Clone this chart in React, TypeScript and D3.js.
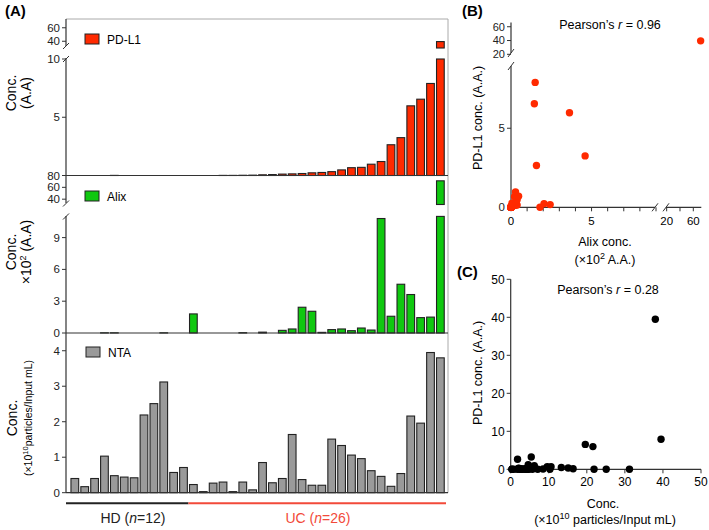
import React from 'react';
import * as d3 from 'd3';

// ---------- data ----------
const samples: string[] = [
  'HD1','HD2','HD3','HD4','HD5','HD6','HD7','HD8','HD9','HD10','HD11','HD12',
  'UC1','UC2','UC3','UC4','UC5','UC6','UC7','UC8','UC9','UC10','UC11','UC12','UC13',
  'UC14','UC15','UC16','UC17','UC18','UC19','UC20','UC21','UC22','UC23','UC24','UC25','UC26',
];
const groupNames = ['HD', 'UC'];
const groupSizes = [12, 26];

// PD-L1 (A.A.)
const pdl1: number[] = [
  0, 0, 0, 0, 0.01, 0, 0, 0, 0, 0, 0, 0,
  0, 0, 0, 0.01, 0.01, 0.02, 0.03, 0.06, 0.08, 0.12, 0.14, 0.17, 0.23, 0.26,
  0.33, 0.48, 0.67, 0.7, 0.97, 1.2, 2.64, 3.25, 5.98, 6.55, 7.9, 39.5,
];
// Alix (x10^2 A.A.)
const alix: number[] = [
  0, 0, 0, 0.02, 0.02, 0, 0, 0, 0, 0.02, 0, 0,
  1.8, 0, 0, 0, 0, 0.03, 0, 0.08, 0, 0.25, 0.38, 2.43, 2.05, 0.06,
  0.32, 0.38, 0.22, 0.47, 0.28, 10.8, 1.58, 4.6, 3.63, 1.45, 1.5, 71,
];
// NTA (x10^10 particles / input mL)
const nta: number[] = [
  0.40, 0.17, 0.40, 1.03, 0.48, 0.44, 0.42, 2.19, 2.51, 3.12, 0.57, 0.71,
  0.23, 0.03, 0.27, 0.30, 0.03, 0.30, 0.08, 0.85, 0.28, 0.40, 1.64, 0.37, 0.21, 0.21,
  1.51, 1.33, 1.06, 0.96, 0.62, 0.46, 0.18, 0.54, 2.16, 1.96, 3.95, 3.80,
];

const redTicksHigh = [40, 60];
const redTicksLow = [5, 10];
const greenTicksHigh = [40, 60, 80];
const greenTicksLow = [0, 3, 6, 9];
const grayTicks = [0, 1, 2, 3, 4];
const bTicksXLow = [0, 1, 2, 3, 4, 5, 6, 7, 8, 9];
const bTickLabelsXLow = [0, 5];
const bTicksXHigh = [20, 40, 60];
const bTickLabelsXHigh = [20, 60];
const bTicksYLow = [0, 5];
const bTicksYHigh = [20, 40, 60];
const cTicks = [0, 10, 20, 30, 40, 50];

const RED = '#ff2a00';
const GREEN = '#10c810';
const GRAY = '#9a9a9a';
const UCRED = '#f24a3a';
const FONT = '"Liberation Sans", Arial, Helvetica, sans-serif';
const AX = '#333';

// ---------- layout ----------
const AX0 = 66, AX1 = 448;
const x = d3.scaleBand<string>().domain(samples).range([68, 447.2]).paddingInner(0.22).paddingOuter(0.3);

const redLow = d3.scaleLinear().domain([0, 10]).range([175.5, 59]);
const redHigh = d3.scaleLinear().domain([30, 73]).range([48, 19]);
const greenLow = d3.scaleLinear().domain([0, 11]).range([333, 216.4]);
const greenHigh = d3.scaleLinear().domain([31, 80]).range([204.5, 175.5]);
const grayY = d3.scaleLinear().domain([0, 4.5]).range([492.7, 333]);

const bxLow = d3.scaleLinear().domain([0, 9]).range([511, 656]);
const bxHigh = d3.scaleLinear().domain([19, 72]).range([666, 701.3]);
const byLow = d3.scaleLinear().domain([0, 9]).range([207.3, 65]);
const byHigh = d3.scaleLinear().domain([19, 66]).range([55, 22.6]);

const cx = d3.scaleLinear().domain([0, 50]).range([510.7, 701]);
const cy = d3.scaleLinear().domain([0, 50]).range([469.3, 279.3]);

type Seg = { low: d3.ScaleLinear<number, number>; high: d3.ScaleLinear<number, number> };

function BrokenBars({ values, seg, fill }: { values: number[]; seg: Seg; fill: string }) {
  const lowMax = seg.low.domain()[1];
  const highMin = seg.high.domain()[0];
  const base = seg.low(0);
  return (
    <g>
      {values.map((v, i) => {
        const xx = x(samples[i])!;
        const w = x.bandwidth();
        const yTop = seg.low(Math.min(v, lowMax));
        const parts = [
          <rect key="l" x={xx} y={yTop} width={w} height={Math.max(base - yTop, 0)} fill={fill} stroke="#222" strokeWidth={1.1} />,
        ];
        if (v > highMin) {
          const yh = seg.high(v);
          parts.push(
            <rect key="h" x={xx} y={yh} width={w} height={seg.high(highMin) - yh} fill={fill} stroke="#222" strokeWidth={1.1} />
          );
        }
        return <g key={i}>{parts}</g>;
      })}
    </g>
  );
}

function Slash({ x0, y0 }: { x0: number; y0: number }) {
  return <line x1={x0 - 3} y1={y0 + 3} x2={x0 + 3} y2={y0 - 3} stroke={AX} strokeWidth={1} />;
}
function SlashV({ x0, y0 }: { x0: number; y0: number }) {
  return <line x1={x0 - 3} y1={y0 + 4} x2={x0 + 3} y2={y0 - 4} stroke={AX} strokeWidth={1} />;
}

function YTicks({ ticks, scale, xPos, fs = 11.5, labels = true }: { ticks: number[]; scale: (v: number) => number; xPos: number; fs?: number; labels?: boolean }) {
  return (
    <g>
      {ticks.map((t) => (
        <g key={t}>
          <line x1={xPos - 4} x2={xPos} y1={scale(t)} y2={scale(t)} stroke={AX} strokeWidth={1} />
          {labels && (
            <text x={xPos - 6} y={scale(t)} dy="0.35em" textAnchor="end" fontSize={fs} fill="#222">{t}</text>
          )}
        </g>
      ))}
    </g>
  );
}

export default function App() {
  const bPoints = alix.map((a, i) => ({ a, p: pdl1[i] }));
  const hdEnd = x(samples[groupSizes[0] - 1])! + x.bandwidth();
  const ucStart = x(samples[groupSizes[0]])!;
  const split = (hdEnd + ucStart) / 2;

  return (
    <svg width={709} height={530} style={{ position: 'absolute', left: 0, top: 0, background: '#fff' }} fontFamily={FONT}>
      <rect width={709} height={530} fill="#fff" />
      {/* ===== Panel A ===== */}
      <text x={5} y={16} fontSize={15} fontWeight="bold">(A)</text>

      {/* frame */}
      <line x1={AX0} x2={AX1} y1={19} y2={19} stroke="#aaa" strokeWidth={1} />
      <line x1={AX1} x2={AX1} y1={19} y2={492.7} stroke="#aaa" strokeWidth={1} />

      {/* bars */}
      <BrokenBars values={pdl1} seg={{ low: redLow, high: redHigh }} fill={RED} />
      <BrokenBars values={alix} seg={{ low: greenLow, high: greenHigh }} fill={GREEN} />
      <g>
        {nta.map((v, i) => (
          <rect key={i} x={x(samples[i])!} y={grayY(v)} width={x.bandwidth()} height={grayY(0) - grayY(v)} fill={GRAY} stroke="#222" strokeWidth={1.1} />
        ))}
      </g>

      {/* separators */}
      <line x1={AX0} x2={AX1} y1={redLow(0)} y2={redLow(0)} stroke={AX} strokeWidth={1.2} />
      <line x1={AX0} x2={AX1} y1={greenLow(0)} y2={greenLow(0)} stroke={AX} strokeWidth={1.2} />
      <line x1={AX0} x2={AX1} y1={grayY(0)} y2={grayY(0)} stroke={AX} strokeWidth={1.2} />

      {/* left axis with breaks */}
      <line x1={AX0} x2={AX0} y1={19} y2={46} stroke={AX} strokeWidth={1.2} />
      <line x1={AX0} x2={AX0} y1={58} y2={redLow(0)} stroke={AX} strokeWidth={1.2} />
      <Slash x0={AX0} y0={46} />
      <Slash x0={AX0} y0={59} />
      <line x1={AX0} x2={AX0} y1={redLow(0)} y2={203} stroke={AX} strokeWidth={1.2} />
      <line x1={AX0} x2={AX0} y1={216} y2={greenLow(0)} stroke={AX} strokeWidth={1.2} />
      <Slash x0={AX0} y0={203.5} />
      <Slash x0={AX0} y0={216.5} />
      <line x1={AX0} x2={AX0} y1={greenLow(0)} y2={grayY(0)} stroke={AX} strokeWidth={1.2} />

      <YTicks ticks={redTicksHigh} scale={redHigh} xPos={AX0} />
      <YTicks ticks={redTicksLow} scale={redLow} xPos={AX0} />
      <YTicks ticks={greenTicksHigh} scale={greenHigh} xPos={AX0} />
      <YTicks ticks={greenTicksLow} scale={greenLow} xPos={AX0} />
      <YTicks ticks={grayTicks} scale={grayY} xPos={AX0} />

      {/* legends */}
      <rect x={85} y={34} width={14} height={10} fill={RED} stroke="#222" />
      <text x={107} y={43.5} fontSize={12}>PD-L1</text>
      <rect x={85} y={191} width={14} height={10} fill={GREEN} stroke="#222" />
      <text x={107} y={200.5} fontSize={12}>Alix</text>
      <rect x={86} y={347} width={14} height={10} fill={GRAY} stroke="#222" />
      <text x={108} y={356.5} fontSize={12}>NTA</text>

      {/* y labels */}
      <g transform="translate(16,93) rotate(-90)" textAnchor="middle" fontSize={14}>
        <text x={0} y={0}>Conc.</text>
        <text x={0} y={15}>(A.A)</text>
      </g>
      <g transform="translate(16,252) rotate(-90)" textAnchor="middle" fontSize={14}>
        <text x={0} y={0}>Conc.</text>
        <text x={0} y={15}>×10<tspan dy={-5} fontSize={9}>2</tspan><tspan dy={5}> (A.A)</tspan></text>
      </g>
      <g transform="translate(17,418) rotate(-90)" textAnchor="middle">
        <text x={0} y={0} fontSize={14}>Conc.</text>
        <text x={0} y={15} fontSize={10.5}>(×10<tspan dy={-4} fontSize={7.5}>10</tspan><tspan dy={4}>particles/Input mL)</tspan></text>
      </g>

      {/* group lines */}
      <line x1={AX0} x2={split} y1={503.3} y2={503.3} stroke="#222" strokeWidth={2} />
      <line x1={split} x2={446} y1={503.3} y2={503.3} stroke={UCRED} strokeWidth={2} />
      <text x={133} y={523} fontSize={14} textAnchor="middle" fill="#222">
        {groupNames[0]} (<tspan fontStyle="italic">n</tspan>={groupSizes[0]})
      </text>
      <text x={318} y={523} fontSize={14} textAnchor="middle" fill={UCRED}>
        {groupNames[1]} (<tspan fontStyle="italic">n</tspan>={groupSizes[1]})
      </text>

      {/* ===== Panel B ===== */}
      <text x={462} y={16} fontSize={15} fontWeight="bold">(B)</text>
      <text x={610} y={29} fontSize={12.5} textAnchor="middle">
        Pearson’s <tspan fontStyle="italic">r</tspan> = 0.96
      </text>
      {/* y axis */}
      <line x1={511} x2={511} y1={22.6} y2={53} stroke={AX} strokeWidth={1.2} />
      <line x1={511} x2={511} y1={66} y2={207.3} stroke={AX} strokeWidth={1.2} />
      <SlashV x0={511} y0={53} />
      <SlashV x0={511} y0={66} />
      <YTicks ticks={bTicksYHigh} scale={byHigh} xPos={511} fs={11} />
      <YTicks ticks={bTicksYLow} scale={byLow} xPos={511} fs={11.5} />
      {/* x axis */}
      <line x1={511} x2={655} y1={207.3} y2={207.3} stroke={AX} strokeWidth={1.2} />
      <line x1={666} x2={701.3} y1={207.3} y2={207.3} stroke={AX} strokeWidth={1.2} />
      <SlashV x0={655} y0={207.3} />
      <SlashV x0={666} y0={207.3} />
      {bTicksXLow.map((t) => (
        <line key={'bl' + t} x1={bxLow(t)} x2={bxLow(t)} y1={207.3} y2={211.3} stroke={AX} />
      ))}
      {bTicksXHigh.map((t) => (
        <line key={'bh' + t} x1={bxHigh(t)} x2={bxHigh(t)} y1={207.3} y2={211.3} stroke={AX} />
      ))}
      {bTickLabelsXLow.map((t) => (
        <text key={'bll' + t} x={bxLow(t)} y={225} fontSize={11.5} textAnchor="middle">{t}</text>
      ))}
      {bTickLabelsXHigh.map((t) => (
        <text key={'bhl' + t} x={bxHigh(t)} y={225} fontSize={11.5} textAnchor="middle">{t}</text>
      ))}
      <text x={605} y={246} fontSize={12.5} textAnchor="middle">Alix conc.</text>
      <text x={605} y={264} fontSize={12.5} textAnchor="middle">
        (×10<tspan dy={-5} fontSize={9}>2</tspan><tspan dy={5}> A.A.)</tspan>
      </text>
      <text transform="translate(482,118) rotate(-90)" fontSize={12.5} textAnchor="middle">PD-L1 conc. (A.A.)</text>
      <g>
        {bPoints.map((d, i) => {
          let px: number | null = null;
          let py: number | null = null;
          if (d.a <= 9) px = bxLow(d.a); else if (d.a >= 19) px = bxHigh(d.a);
          if (d.p <= 9) py = byLow(d.p); else if (d.p >= 19) py = byHigh(d.p);
          if (px === null || py === null) return null;
          return <circle key={i} cx={px} cy={py} r={3.7} fill={RED} />;
        })}
      </g>

      {/* ===== Panel C ===== */}
      <text x={457} y={277} fontSize={15} fontWeight="bold">(C)</text>
      <text x={608} y={294} fontSize={12.5} textAnchor="middle">
        Pearson’s <tspan fontStyle="italic">r</tspan> = 0.28
      </text>
      <line x1={cx(0)} x2={cx(0)} y1={cy(50)} y2={cy(0)} stroke={AX} strokeWidth={1.2} />
      <line x1={cx(0)} x2={cx(50)} y1={cy(0)} y2={cy(0)} stroke={AX} strokeWidth={1.2} />
      {cTicks.map((t) => (
        <g key={'c' + t}>
          <line x1={cx(0) - 4} x2={cx(0)} y1={cy(t)} y2={cy(t)} stroke={AX} />
          <text x={cx(0) - 6} y={cy(t)} dy="0.35em" fontSize={12} textAnchor="end">{t}</text>
          <line x1={cx(t)} x2={cx(t)} y1={cy(0)} y2={cy(0) + 4} stroke={AX} />
          <text x={cx(t)} y={cy(0) + 17} fontSize={12} textAnchor="middle">{t}</text>
        </g>
      ))}
      <text x={603} y={508} fontSize={12.5} textAnchor="middle">Conc.</text>
      <text x={605} y={524} fontSize={12.5} textAnchor="middle">
        (×10<tspan dy={-5} fontSize={9}>10</tspan><tspan dy={5}> particles/Input mL)</tspan>
      </text>
      <text transform="translate(482,373) rotate(-90)" fontSize={12.5} textAnchor="middle">PD-L1 conc. (A.A.)</text>
      <g>
        {nta.map((n, i) => (
          <circle key={i} cx={cx(n * 10)} cy={cy(pdl1[i])} r={3.7} fill="#000" />
        ))}
      </g>
    </svg>
  );
}
